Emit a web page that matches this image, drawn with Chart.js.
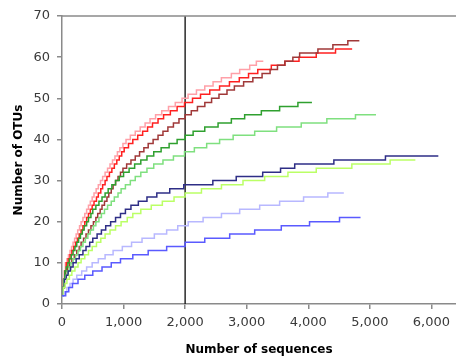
<!DOCTYPE html>
<html>
<head>
<meta charset="utf-8">
<script src="https://cdn.jsdelivr.net/npm/chart.js@4"></script>
<style>
  html, body { margin: 0; padding: 0; background: #fff; }
</style>
</head>
<body>
<canvas id="chart" width="456" height="358"></canvas>
<script>
// --- Data: [sequences, OTUs] at each step of the rarefaction curves ---
const pinkSteps = [[0,2],[10,4],[20,6],[35,8],[55,10],[80,11],[105,12],[130,13],[155,14],[180,15],[205,16],[230,17],[255,18],[285,19],[310,20],[340,21],[370,22],[400,23],[430,24],[460,25],[490,26],[520,27],[555,28],[590,29],[625,30],[660,31],[700,32],[740,33],[780,34],[820,35],[860,36],[900,37],[940,38],[990,39],[1040,40],[1110,41],[1190,42],[1270,43],[1350,44],[1430,45],[1520,46],[1620,47],[1730,48],[1840,49],[1950,50],[2048,51],[2184,52],[2319,53],[2454,54],[2589,55],[2751,56],[2886,57],[3049,58],[3157,59],[3270,59]];
const redSteps = [[0,2],[10,4],[25,6],[45,8],[70,10],[100,11],[130,12],[160,13],[190,14],[220,15],[250,16],[280,17],[310,18],[340,19],[370,20],[400,21],[430,22],[460,23],[490,24],[520,25],[560,26],[590,27],[630,28],[660,29],[700,30],[730,31],[770,32],[810,33],[850,34],[890,35],[930,36],[970,37],[1010,38],[1080,39],[1150,40],[1230,41],[1310,42],[1390,43],[1470,44],[1560,45],[1650,46],[1760,47],[1870,48],[1990,49],[2120,50],[2250,51],[2400,52],[2560,53],[2720,54],[2880,55],[3030,56],[3180,57],[3400,58],[3620,59],[3850,60],[4130,61],[4443,62],[4713,62]];
const darkRedSteps = [[0,2],[15,4],[35,6],[60,8],[90,9],[120,10],[160,11],[200,12],[240,13],[280,14],[310,15],[350,16],[390,17],[430,18],[470,19],[510,20],[550,21],[580,22],[620,23],[650,24],[690,25],[730,26],[760,27],[800,28],[830,29],[870,30],[910,31],[950,32],[990,33],[1050,34],[1120,35],[1190,36],[1260,37],[1330,38],[1400,39],[1480,40],[1560,41],[1640,42],[1720,43],[1810,44],[1900,45],[2000,46],[2100,47],[2200,48],[2320,49],[2430,50],[2550,51],[2680,52],[2800,53],[2950,54],[3100,55],[3250,56],[3380,57],[3500,58],[3620,59],[3750,60],[3860,61],[4157,62],[4400,63],[4643,64],[4830,64]];
const greenSteps = [[0,2],[10,4],[25,6],[45,8],[70,9],[95,10],[120,11],[150,12],[180,13],[210,14],[240,15],[270,16],[300,17],[330,18],[360,19],[400,20],[430,21],[470,22],[500,23],[550,24],[600,25],[650,26],[700,27],[750,28],[810,29],[870,30],[930,31],[1000,32],[1090,33],[1180,34],[1280,35],[1380,36],[1490,37],[1610,38],[1740,39],[1870,40],[2000,41],[2130,42],[2319,43],[2535,44],[2751,45],[2967,46],[3238,47],[3535,48],[3832,49],[4060,49]];
const lightGreenSteps = [[0,2],[15,4],[35,6],[60,7],[85,8],[115,9],[145,10],[180,11],[220,12],[260,13],[300,14],[340,15],[380,16],[420,17],[460,18],[510,19],[550,20],[600,21],[640,22],[690,23],[740,24],[800,25],[850,26],[910,27],[960,28],[1030,29],[1110,30],[1190,31],[1280,32],[1380,33],[1490,34],[1640,35],[1810,36],[1990,37],[2150,38],[2350,39],[2560,40],[2780,41],[3130,42],[3486,43],[3886,44],[4302,45],[4767,46],[5100,46]];
const navySteps = [[0,2],[15,4],[40,6],[70,7],[100,8],[140,9],[180,10],[230,11],[280,12],[340,13],[390,14],[450,15],[500,16],[570,17],[640,18],[710,19],[790,20],[870,21],[950,22],[1030,23],[1120,24],[1240,25],[1380,26],[1540,27],[1750,28],[1978,29],[2450,30],[2830,31],[3260,32],[3550,33],[3780,34],[4416,35],[5254,36],[6113,36]];
const yellowGreenSteps = [[0,2],[20,4],[50,5],[80,6],[120,7],[160,8],[210,9],[260,10],[310,11],[370,12],[430,13],[490,14],[560,15],[630,16],[700,17],[780,18],[870,19],[960,20],[1060,21],[1150,22],[1280,23],[1450,24],[1630,25],[1820,26],[2000,27],[2265,28],[2590,29],[2940,30],[3292,31],[3670,32],[4130,33],[4708,34],[5330,35],[5740,35]];
const lavenderSteps = [[0,2],[40,3],[80,4],[130,5],[180,6],[240,7],[320,8],[400,9],[490,10],[590,11],[700,12],[830,13],[980,14],[1130,15],[1300,16],[1500,17],[1700,18],[1880,19],[2050,20],[2292,21],[2590,22],[2886,23],[3211,24],[3535,25],[3924,26],[4318,27],[4578,27]];
const blueSteps = [[0,2],[60,3],[110,4],[170,5],[260,6],[370,7],[500,8],[650,9],[800,10],[950,11],[1150,12],[1400,13],[1700,14],[2000,15],[2319,16],[2724,17],[3130,18],[3562,19],[4021,20],[4508,21],[4849,21]];

const cutoffX = 2000;
const xTicks = [0, 1000, 2000, 3000, 4000, 5000, 6000];
const yTicks = [0, 10, 20, 30, 40, 50, 60, 70];

// --- Styles ---
const curves = [
    { steps: blueSteps, color: '#5a5aff' },
    { steps: lavenderSteps, color: '#b8b8ff' },
    { steps: yellowGreenSteps, color: '#bbff66' },
    { steps: navySteps, color: '#2e2e86' },
    { steps: lightGreenSteps, color: '#7fe07f' },
    { steps: greenSteps, color: '#2fa02f' },
    { steps: darkRedSteps, color: '#a03838' },
    { steps: redSteps, color: '#ff2020' },
    { steps: pinkSteps, color: '#ffa0a8' },
];

const datasets = curves.map(c => ({
    data: c.steps.map(p => ({ x: p[0], y: p[1] })),
    borderColor: c.color,
    borderWidth: 1.5,
    pointRadius: 0,
    showLine: true,
    stepped: true,
    fill: false,
}));

datasets.push({
    data: [{ x: cutoffX, y: yTicks[0] }, { x: cutoffX, y: yTicks[yTicks.length - 1] }],
    borderColor: '#1a1a1a',
    borderWidth: 1.4,
    pointRadius: 0,
    showLine: true,
    fill: false,
});

// top frame line
const frameTop = {
    id: 'frameTop',
    afterDraw(chart) {
        const { ctx, chartArea } = chart;
        ctx.save();
        ctx.strokeStyle = '#8a8a8a';
        ctx.lineWidth = 1.5;
        ctx.beginPath();
        ctx.moveTo(chartArea.left, chartArea.top);
        ctx.lineTo(chartArea.right, chartArea.top);
        ctx.stroke();
        ctx.restore();
    }
};

const tickFont = { family: 'DejaVu Sans', size: 13 };
const titleFont = { family: 'DejaVu Sans', size: 12, weight: 'bold' };

new Chart(document.getElementById('chart').getContext('2d'), {
    type: 'scatter',
    data: { datasets },
    options: {
        responsive: false,
        devicePixelRatio: 1,
        animation: false,
        layout: { padding: { top: 16, right: 0, left: 0, bottom: 0 } },
        plugins: { legend: { display: false }, tooltip: { enabled: false } },
        scales: {
            x: {
                type: 'linear',
                min: 0,
                max: 6400,
                afterBuildTicks: scale => { scale.ticks = xTicks.map(v => ({ value: v })); },
                afterFit: scale => { scale.height = 54; },
                ticks: { color: '#3a3a3a', font: tickFont, padding: 6, maxRotation: 0 },
                grid: { drawOnChartArea: false, drawTicks: true, tickLength: 5, color: '#8a8a8a', lineWidth: 1.5 },
                border: { color: '#8a8a8a', width: 1.5 },
                title: { display: true, text: 'Number of sequences', color: '#000', font: titleFont, padding: { top: 0, bottom: 1 } },
            },
            y: {
                type: 'linear',
                min: 0,
                max: 70,
                afterBuildTicks: scale => { scale.ticks = yTicks.map(v => ({ value: v })); },
                afterFit: scale => { scale.width = 62; },
                ticks: { color: '#3a3a3a', font: tickFont, padding: 7 },
                grid: { drawOnChartArea: false, drawTicks: true, tickLength: 5, color: '#8a8a8a', lineWidth: 1.5 },
                border: { color: '#8a8a8a', width: 1.5 },
                title: { display: true, text: 'Number of OTUs', color: '#000', font: titleFont, padding: { top: 12, bottom: 0 } },
            }
        }
    },
    plugins: [frameTop]
});
</script>
</body>
</html>
